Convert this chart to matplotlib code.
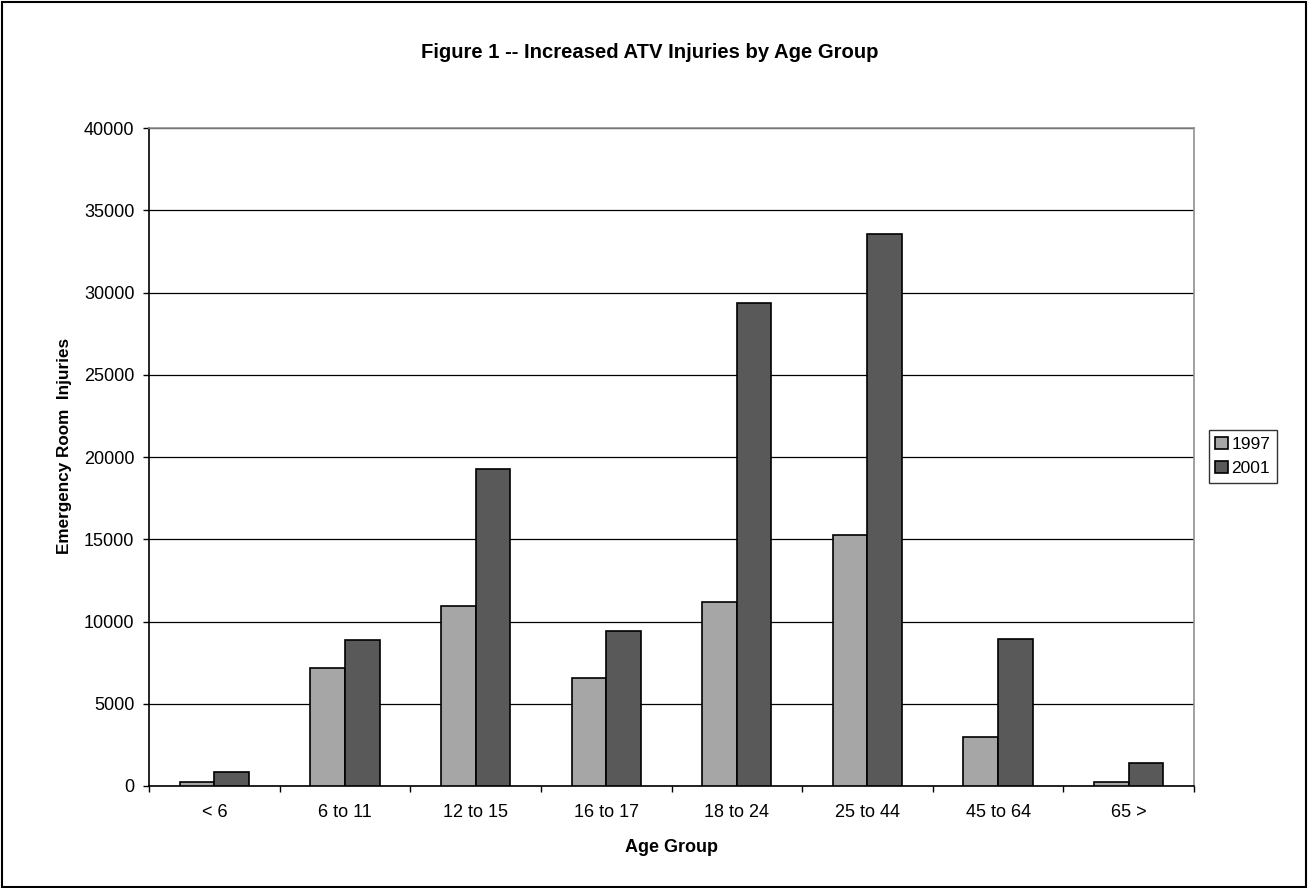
import matplotlib
matplotlib.use("Agg")
import matplotlib.pyplot as plt
from matplotlib.patches import Rectangle
import numpy as np

plt.rcParams['font.family'] = ['Liberation Sans', 'DejaVu Sans']

categories = ["< 6", "6 to 11", "12 to 15", "16 to 17", "18 to 24", "25 to 44", "45 to 64", "65 >"]
series_names = ["1997", "2001"]
values_1997 = [250, 7200, 10970, 6560, 11180, 15270, 3000, 240]
values_2001 = [850, 8890, 19300, 9440, 29380, 33570, 8910, 1420]
y_ticks = [0, 5000, 10000, 15000, 20000, 25000, 30000, 35000, 40000]

W, H = 1308, 888
fig = plt.figure(figsize=(W / 100, H / 100), dpi=100)
ax = fig.add_axes([149 / W, 1 - 786 / H, (1194 - 149) / W, (786 - 128) / H])

x = np.arange(len(categories))
bw = 0.265
ax.bar(x - bw / 2, values_1997, width=bw, color="#A6A6A6", edgecolor="black",
       linewidth=1.2, label=series_names[0], zorder=3)
ax.bar(x + bw / 2, values_2001, width=bw, color="#595959", edgecolor="black",
       linewidth=1.2, label=series_names[1], zorder=3)

ax.set_xlim(-0.5, len(categories) - 0.5)
ax.set_ylim(0, 40000)
ax.set_yticks(y_ticks)
ax.set_yticklabels([str(t) for t in y_ticks], fontsize=13)
ax.set_xticks(x)
ax.set_xticklabels(categories, fontsize=13)
ax.set_xticks(np.arange(len(categories) + 1) - 0.5, minor=True)
ax.tick_params(axis='x', which='major', length=0, pad=13.2)
ax.tick_params(axis='x', which='minor', length=4, width=1, color='black', direction='out')
ax.tick_params(axis='y', length=4, width=1, direction='out', pad=6.5)
ax.yaxis.grid(True, color='black', linewidth=0.9, zorder=0)
ax.set_axisbelow(True)

for s in ['top', 'right']:
    ax.spines[s].set_color('#909090')
    ax.spines[s].set_linewidth(1.2)
for s in ['left', 'bottom']:
    ax.spines[s].set_color('black')
    ax.spines[s].set_linewidth(1.2)

fig.text(650 / W, 1 - 58 / H, "Figure 1 -- Increased ATV Injuries by Age Group",
         ha='center', va='baseline', fontsize=14.6, fontweight='bold')
fig.text(65 / W, 1 - 446 / H, "Emergency Room  Injuries", rotation=90,
         ha='center', va='center', fontsize=12.3, fontweight='bold')
fig.text(671.5 / W, 1 - 852 / H, "Age Group", ha='center', va='baseline',
         fontsize=13, fontweight='bold')

leg = fig.legend(loc='center left', bbox_to_anchor=(1209 / W, 1 - 456.5 / H),
                 fontsize=12.5, frameon=True, fancybox=False, edgecolor='black',
                 handlelength=0.73, handleheight=0.7, handletextpad=0.22,
                 borderpad=0.35, labelspacing=0.55, borderaxespad=0)
leg.get_frame().set_linewidth(1.0)

fig.patches.append(Rectangle((1.5 / W, 1.5 / H), 1 - 4 / W, 1 - 4 / H,
                             transform=fig.transFigure, fill=False,
                             edgecolor='black', linewidth=1.5))

fig.savefig("out.png", dpi=100)
